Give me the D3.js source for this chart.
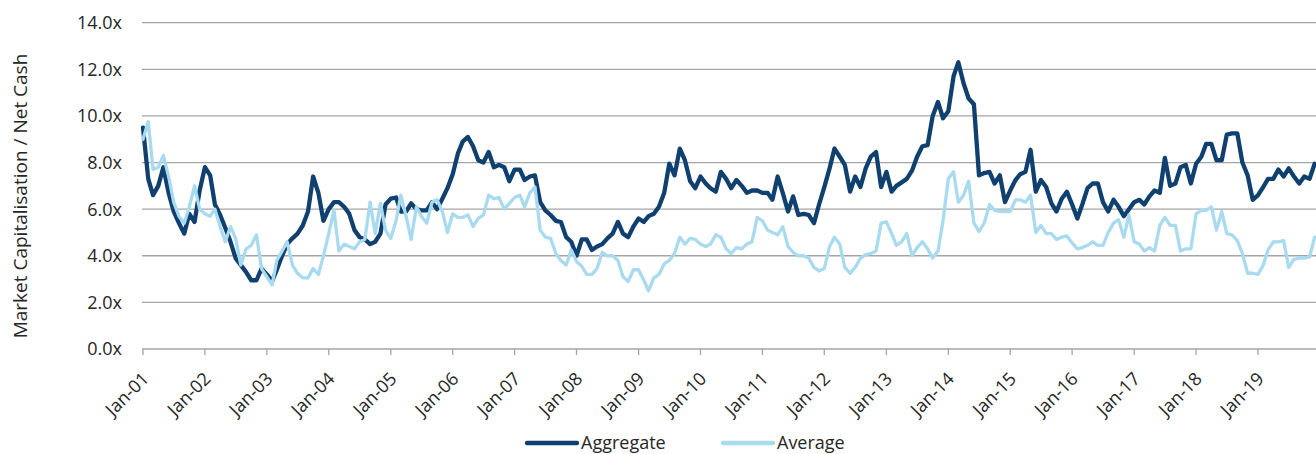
<!DOCTYPE html>
<html><head><meta charset="utf-8">
<script src="https://cdn.jsdelivr.net/npm/d3@7"></script>
<style>
html,body{margin:0;padding:0;background:#fff;}
svg{display:block;font-family:"Open Sans",sans-serif;}
</style></head><body>
<svg id="chart" width="1316" height="454"></svg>
<script>
// Monthly Market Cap / Net Cash multiples, Jan 2001 onwards
const aggregate = [
  9.5, 7.3, 6.6, 7.0, 7.8, 6.7, 5.9, 5.4, 4.95, 5.8,
  5.45, 6.8, 7.8, 7.45, 6.2, 5.75, 5.2, 4.6, 3.9, 3.6,
  3.3, 2.95, 2.95, 3.45, 3.2, 2.9, 3.4, 4.0, 4.5, 4.75,
  4.95, 5.3, 5.9, 7.4, 6.7, 5.5, 6.0, 6.3, 6.3, 6.1,
  5.8, 5.1, 4.8, 4.7, 4.5, 4.6, 4.95, 6.2, 6.45, 6.5,
  5.9, 5.9, 6.25, 6.0, 5.95, 5.95, 6.3, 6.0, 6.45, 6.9,
  7.5, 8.4, 8.9, 9.1, 8.7, 8.1, 8.0, 8.45, 7.8, 7.9,
  7.8, 7.2, 7.7, 7.7, 7.25, 7.4, 7.45, 6.3, 5.95, 5.75,
  5.5, 5.45, 4.8, 4.6, 4.0, 4.7, 4.7, 4.25, 4.4, 4.5,
  4.75, 4.95, 5.45, 4.95, 4.8, 5.25, 5.6, 5.45, 5.7, 5.8,
  6.1, 6.7, 7.95, 7.45, 8.6, 8.1, 7.2, 6.9, 7.4, 7.1,
  6.9, 6.75, 7.6, 7.3, 6.9, 7.25, 7.0, 6.7, 6.8, 6.8,
  6.7, 6.7, 6.4, 7.4, 6.7, 5.9, 6.55, 5.75, 5.8, 5.75,
  5.4, 6.2, 6.95, 7.75, 8.6, 8.25, 7.9, 6.75, 7.4, 6.95,
  7.75, 8.25, 8.45, 6.95, 7.6, 6.75, 7.0, 7.15, 7.3, 7.65,
  8.25, 8.7, 8.75, 10.0, 10.6, 9.9, 10.2, 11.7, 12.3, 11.4,
  10.75, 10.5, 7.45, 7.55, 7.6, 7.1, 7.45, 6.3, 6.8, 7.25,
  7.5, 7.6, 8.55, 6.75, 7.25, 6.95, 6.25, 5.9, 6.45, 6.75,
  6.2, 5.6, 6.2, 6.9, 7.1, 7.1, 6.3, 5.9, 6.4, 6.1,
  5.7, 6.0, 6.3, 6.4, 6.2, 6.55, 6.8, 6.7, 8.2, 7.0,
  7.1, 7.8, 7.9, 7.1, 7.95, 8.25, 8.8, 8.8, 8.1, 8.1,
  9.2, 9.25, 9.25, 8.0, 7.45, 6.4, 6.6, 6.95, 7.3, 7.3,
  7.7, 7.4, 7.75, 7.4, 7.1, 7.4, 7.3, 7.95
];

const average = [
  9.0, 9.75, 7.7, 7.8, 8.3, 7.4, 6.3, 5.7, 5.4, 6.1,
  7.0, 6.0, 5.8, 5.7, 6.0, 5.25, 4.6, 5.25, 4.75, 3.6,
  4.3, 4.45, 4.9, 3.45, 3.1, 2.75, 3.8, 4.2, 4.6, 3.6,
  3.25, 3.05, 3.05, 3.45, 3.2, 4.0, 4.95, 5.95, 4.2, 4.5,
  4.4, 4.3, 4.6, 4.7, 6.3, 4.95, 6.25, 5.1, 4.75, 5.5,
  6.6, 5.7, 4.7, 6.1, 5.7, 5.4, 6.3, 6.4, 5.9, 5.0,
  5.8, 5.65, 5.65, 5.75, 5.25, 5.6, 5.75, 6.6, 6.45, 6.5,
  6.0, 6.25, 6.5, 6.6, 6.1, 6.7, 6.95, 5.1, 4.8, 4.75,
  4.1, 3.8, 3.6, 4.25, 3.75, 3.55, 3.2, 3.2, 3.45, 4.15,
  4.0, 4.0, 3.8, 3.1, 2.9, 3.4, 3.4, 2.95, 2.5, 3.05,
  3.2, 3.65, 3.8, 4.1, 4.8, 4.5, 4.75, 4.7, 4.5, 4.4,
  4.5, 4.9, 4.8, 4.3, 4.1, 4.35, 4.3, 4.5, 4.6, 5.65,
  5.5, 5.1, 5.0, 4.9, 5.25, 4.4, 4.15, 4.0, 4.0, 3.9,
  3.5, 3.35, 3.45, 4.4, 4.8, 4.5, 3.5, 3.25, 3.5, 3.9,
  4.05, 4.1, 4.2, 5.4, 5.45, 4.95, 4.45, 4.6, 4.95, 4.0,
  4.35, 4.6, 4.3, 3.9, 4.2, 5.5, 7.3, 7.6, 6.3, 6.6,
  7.2, 5.4, 5.05, 5.4, 6.2, 5.95, 5.9, 5.9, 5.9, 6.4,
  6.4, 6.3, 6.6, 5.0, 5.3, 4.95, 4.95, 4.7, 4.8, 4.85,
  4.55, 4.3, 4.35, 4.45, 4.6, 4.45, 4.45, 5.0, 5.4, 5.55,
  4.8, 5.75, 4.6, 4.5, 4.2, 4.35, 4.2, 5.3, 5.65, 5.3,
  5.3, 4.2, 4.3, 4.3, 5.8, 5.95, 5.95, 6.1, 5.1, 5.9,
  4.95, 4.9, 4.65, 4.1, 3.25, 3.25, 3.2, 3.6, 4.25, 4.6,
  4.6, 4.65, 3.5, 3.85, 3.9, 3.9, 3.95, 4.8
];

const firstYear = 2001;
const tickYears = d3.range(2001, 2020);
const yTicks = [0, 2, 4, 6, 8, 10, 12, 14];
const seriesNames = ["Aggregate", "Average"];
const seriesColors = ["#0f406f", "#a8daf0"];

// each value belongs to one calendar month, starting January of firstYear
const months = aggregate.map((_, i) => new Date(firstYear, i, 1));

const svg = d3.select("#chart");
const W = 1316;
const plotLeft = 143, plotTop = 22.7, plotBottom = 349;

const x = d3.scaleTime()
  .domain([new Date(2001, 0, 1), new Date(2019, 0, 1)])
  .range([plotLeft, 1258]);
const y = d3.scaleLinear().domain([0, 14]).range([plotBottom, plotTop]);

const textColor = "#262626";
const gridColor = "#a5a5a5";

// horizontal gridlines
svg.append("g").selectAll("line").data(yTicks.filter(d => d > 0)).join("line")
  .attr("x1", plotLeft - 1).attr("x2", W)
  .attr("y1", d => y(d)).attr("y2", d => y(d))
  .attr("stroke", gridColor).attr("stroke-width", 1.3);

// y tick labels
svg.append("g").selectAll("text").data(yTicks).join("text")
  .attr("x", 122).attr("y", d => y(d))
  .attr("dy", "0.36em")
  .attr("text-anchor", "end")
  .attr("font-size", 18)
  .attr("fill", textColor)
  .text(d => d.toFixed(1) + "x");

// y axis title
svg.append("text")
  .attr("transform", "translate(27,196) rotate(-90)")
  .attr("text-anchor", "middle")
  .attr("font-size", 19)
  .attr("fill", textColor)
  .text("Market Capitalisation / Net Cash");

// x axis line and yearly ticks
const tickDates = tickYears.map(yr => new Date(yr, 0, 1));
svg.append("line")
  .attr("x1", plotLeft - 1).attr("x2", W)
  .attr("y1", plotBottom).attr("y2", plotBottom)
  .attr("stroke", gridColor).attr("stroke-width", 1.3);
svg.append("g").selectAll("line").data(tickDates).join("line")
  .attr("x1", d => x(d)).attr("x2", d => x(d))
  .attr("y1", plotBottom).attr("y2", plotBottom + 6)
  .attr("stroke", gridColor).attr("stroke-width", 1.3);

const fmt = d3.timeFormat("%b-%y");
svg.append("g").selectAll("text").data(tickDates).join("text")
  .attr("transform", d => `translate(${x(d) + 7},${plotBottom + 31}) rotate(-45)`)
  .attr("text-anchor", "end")
  .attr("font-size", 18)
  .attr("fill", textColor)
  .text(d => fmt(d));

// series lines
const line = d3.line()
  .x((d, i) => x(months[i]))
  .y(d => y(d));

[aggregate, average].forEach((vals, k) => {
  svg.append("path")
    .datum(vals)
    .attr("fill", "none")
    .attr("stroke", seriesColors[k])
    .attr("stroke-width", k === 0 ? 4.3 : 3.3)
    .attr("stroke-linejoin", "round")
    .attr("stroke-linecap", "round")
    .attr("d", line);
});

// legend
const legendX = [527, 723];
seriesNames.forEach((name, k) => {
  const g = svg.append("g");
  g.append("line")
    .attr("x1", legendX[k]).attr("x2", legendX[k] + 50)
    .attr("y1", 443).attr("y2", 443)
    .attr("stroke", seriesColors[k])
    .attr("stroke-width", 4.4)
    .attr("stroke-linecap", "round");
  g.append("text")
    .attr("x", legendX[k] + 54).attr("y", 449)
    .attr("font-size", 18)
    .attr("fill", textColor)
    .text(name);
});
</script>
</body></html>
